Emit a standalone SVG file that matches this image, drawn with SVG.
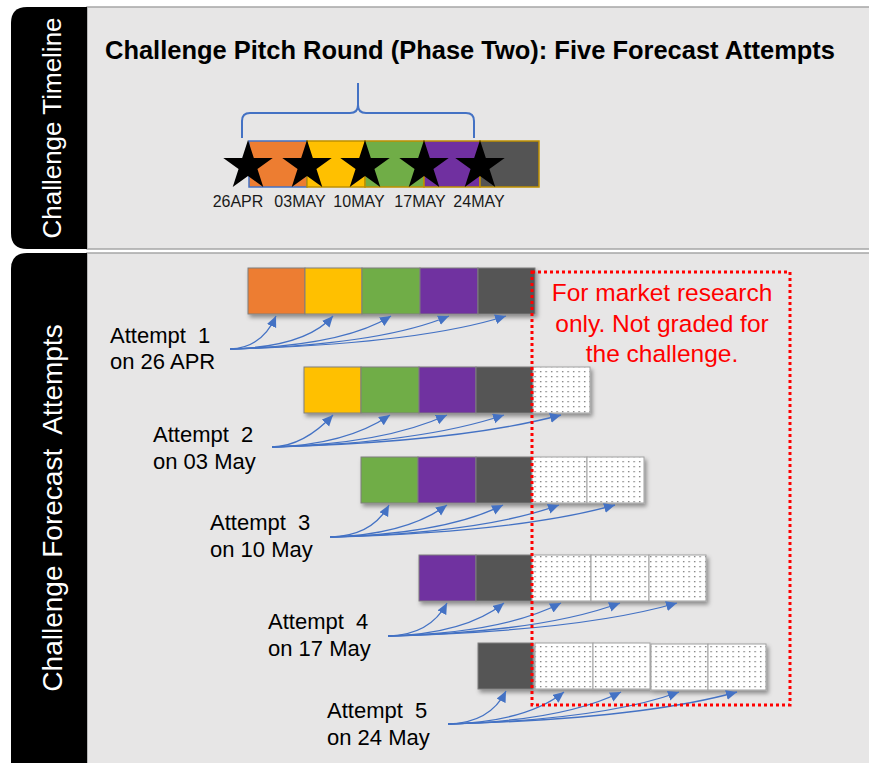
<svg xmlns="http://www.w3.org/2000/svg" width="869" height="763" viewBox="0 0 869 763">
<defs>
<style>
.panel{fill:#E7E6E6;stroke:#A6A6A6;stroke-width:1.5}
.tab{fill:#000}
.tabtxt{font-family:"Liberation Sans",Arial,sans-serif;fill:#fff;text-anchor:middle}
.title{font-family:"Liberation Sans",Arial,sans-serif;font-weight:bold;font-size:25px;fill:#000}
.date{font-family:"Liberation Sans",Arial,sans-serif;font-size:16px;fill:#1a1a1a;text-anchor:middle}
.lbl{font-family:"Liberation Sans",Arial,sans-serif;font-size:22px;fill:#000;white-space:pre}
.red{font-family:"Liberation Sans",Arial,sans-serif;font-size:24.5px;fill:#FF0000;text-anchor:middle}
.box{stroke:#7F7F7F;stroke-width:1}
.o{fill:#ED7D31}.y{fill:#FFC000}.g{fill:#70AD47}.p{fill:#7030A0}.k{fill:#545454}
.d{fill:url(#dots);stroke:#A0A0A0}
.tl{stroke:#BF9000;stroke-width:1.5}
.arr{fill:none;stroke:#4472C4;stroke-width:1.3;marker-end:url(#ah)}
</style>
<pattern id="dots" patternUnits="userSpaceOnUse" width="5.5" height="5">
<rect width="5.5" height="5" fill="#fff"/>
<rect x="1" y="1" width="1.3" height="1.3" fill="#777"/>
</pattern>
<filter id="sh" x="-20%" y="-20%" width="150%" height="160%">
<feDropShadow dx="2" dy="3" stdDeviation="2" flood-color="#000" flood-opacity="0.4"/>
</filter>
<marker id="ah" markerUnits="userSpaceOnUse" markerWidth="13" markerHeight="11" refX="11" refY="5" orient="auto">
<path d="M0,0 L11,5 L0,10 Z" fill="#4472C4"/>
</marker>
<path id="star" d="M0,-26 L5.84,-8.04 L24.73,-8.04 L9.44,3.07 L15.28,21.03 L0,9.93 L-15.28,21.03 L-9.44,3.07 L-24.73,-8.04 L-5.84,-8.04 Z" fill="#000"/>
</defs>
<rect width="869" height="763" fill="#fff"/>

<g id="panel-timeline">
<rect class="panel" x="87" y="7" width="790" height="242"/>
<path class="tab" d="M87,7 L27,7 Q11,7 11,23 L11,233 Q11,249 27,249 L87,249 Z"/>
<text class="tabtxt" font-size="26" transform="translate(61,128) rotate(-90)" x="0" y="0">Challenge Timeline</text>
</g>

<g id="panel-attempts">
<rect class="panel" x="87" y="253" width="790" height="520"/>
<path class="tab" d="M87,253 L27,253 Q11,253 11,269 L11,775 L87,775 Z"/>
<text class="tabtxt" font-size="28" transform="translate(62,508) rotate(-90)" x="0" y="0" style="white-space:pre">Challenge Forecast  Attempts</text>
</g>

<g id="title">
<text class="title" x="105" y="59" textLength="730" lengthAdjust="spacingAndGlyphs">Challenge Pitch Round (Phase Two): Five Forecast Attempts</text>
</g>

<g id="timeline">
<rect class="o" x="249" y="141" width="58" height="46" stroke="#4472C4" stroke-width="1.5"/>
<rect class="y tl" x="307" y="141" width="58" height="46"/>
<rect class="g tl" x="365" y="141" width="59" height="46"/>
<rect class="p tl" x="424" y="141" width="56" height="46"/>
<rect class="k tl" x="480" y="141" width="59" height="46"/>
<path d="M242,138 V121 Q242,113 250,113 H350 Q358,113 358,105 V83 M358,105 Q358,113 366,113 H466 Q474,113 474,121 V138" fill="none" stroke="#4472C4" stroke-width="2"/>
<use href="#star" x="248" y="166"/>
<use href="#star" x="307" y="166"/>
<use href="#star" x="365" y="166"/>
<use href="#star" x="424" y="166"/>
<use href="#star" x="480" y="166"/>
<text class="date" x="238" y="207">26APR</text>
<text class="date" x="300" y="207">03MAY</text>
<text class="date" x="359" y="207">10MAY</text>
<text class="date" x="420" y="207">17MAY</text>
<text class="date" x="479" y="207">24MAY</text>
</g>

<g id="attempt1" filter="url(#sh)">
<rect class="box o" x="248" y="268" width="57" height="46"/>
<rect class="box y" x="305" y="268" width="57" height="46"/>
<rect class="box g" x="362" y="268" width="58" height="46"/>
<rect class="box p" x="420" y="268" width="58" height="46"/>
<rect class="box k" x="478" y="268" width="57" height="46"/>
</g>
<g id="attempt2" filter="url(#sh)">
<rect class="box y" x="304" y="367" width="57" height="46"/>
<rect class="box g" x="361" y="367" width="58" height="46"/>
<rect class="box p" x="419" y="367" width="57" height="46"/>
<rect class="box k" x="476" y="367" width="57" height="46"/>
<rect class="box d" x="533" y="367" width="57" height="46"/>
</g>
<g id="attempt3" filter="url(#sh)">
<rect class="box g" x="361" y="457" width="57" height="46"/>
<rect class="box p" x="418" y="457" width="58" height="46"/>
<rect class="box k" x="476" y="457" width="56" height="46"/>
<rect class="box d" x="532" y="457" width="55" height="46"/>
<rect class="box d" x="587" y="457" width="57" height="46"/>
</g>
<g id="attempt4" filter="url(#sh)">
<rect class="box p" x="419" y="555" width="57" height="46"/>
<rect class="box k" x="476" y="555" width="56" height="46"/>
<rect class="box d" x="532" y="555" width="59" height="46"/>
<rect class="box d" x="591" y="555" width="58" height="46"/>
<rect class="box d" x="649" y="555" width="57" height="46"/>
</g>
<g id="attempt5" filter="url(#sh)">
<rect class="box k" x="478" y="643" width="55" height="46"/>
<rect class="box d" x="535" y="643" width="58" height="46"/>
<rect class="box d" x="593" y="643" width="57" height="46"/>
<rect class="box d" x="651" y="644" width="57" height="46"/>
<rect class="box d" x="708" y="644" width="58" height="46"/>
</g>

<g id="connectors">
<path class="arr" d="M230,349 Q262,348 276,316"/>
<path class="arr" d="M230,349 Q306,347 333,316"/>
<path class="arr" d="M230,349 Q343,346 391,316"/>
<path class="arr" d="M230,349 Q380,345 449,316"/>
<path class="arr" d="M230,349 Q418,344 506,316"/>

<path class="arr" d="M272,447 Q304,446 333,415"/>
<path class="arr" d="M272,447 Q346,445 390,415"/>
<path class="arr" d="M272,447 Q384,444 447,415"/>
<path class="arr" d="M272,447 Q421,443 504,415"/>
<path class="arr" d="M272,447 Q460,442 561,415"/>

<path class="arr" d="M330,537 Q372,536 389,505"/>
<path class="arr" d="M330,537 Q406,535 447,505"/>
<path class="arr" d="M330,537 Q445,534 503,505"/>
<path class="arr" d="M330,537 Q482,533 559,505"/>
<path class="arr" d="M330,537 Q519,532 615,505"/>

<path class="arr" d="M388,636 Q430,635 447,603"/>
<path class="arr" d="M388,636 Q465,634 504,603"/>
<path class="arr" d="M388,636 Q503,633 561,603"/>
<path class="arr" d="M388,636 Q542,632 620,603"/>
<path class="arr" d="M388,636 Q581,631 677,603"/>

<path class="arr" d="M448,724 Q490,723 506,691"/>
<path class="arr" d="M448,724 Q526,722 564,692"/>
<path class="arr" d="M448,724 Q563,721 621,692"/>
<path class="arr" d="M448,724 Q602,720 679,692"/>
<path class="arr" d="M448,724 Q640,719 737,692"/>
</g>

<g id="attempt-labels">
<text class="lbl" x="110" y="343">Attempt  1</text>
<text class="lbl" x="110" y="369">on 26 APR</text>
<text class="lbl" x="153" y="442">Attempt  2</text>
<text class="lbl" x="153" y="469">on 03 May</text>
<text class="lbl" x="210" y="530">Attempt  3</text>
<text class="lbl" x="210" y="557">on 10 May</text>
<text class="lbl" x="268" y="629">Attempt  4</text>
<text class="lbl" x="268" y="656">on 17 May</text>
<text class="lbl" x="327" y="718">Attempt  5</text>
<text class="lbl" x="327" y="745">on 24 May</text>
</g>

<g id="market-research-note">
<rect x="532" y="272" width="258" height="433" fill="none" stroke="#FF0000" stroke-width="3" stroke-dasharray="3 3"/>
<text class="red" x="662" y="301">For market research</text>
<text class="red" x="662" y="332">only. Not graded for</text>
<text class="red" x="662" y="362">the challenge.</text>
</g>
</svg>
